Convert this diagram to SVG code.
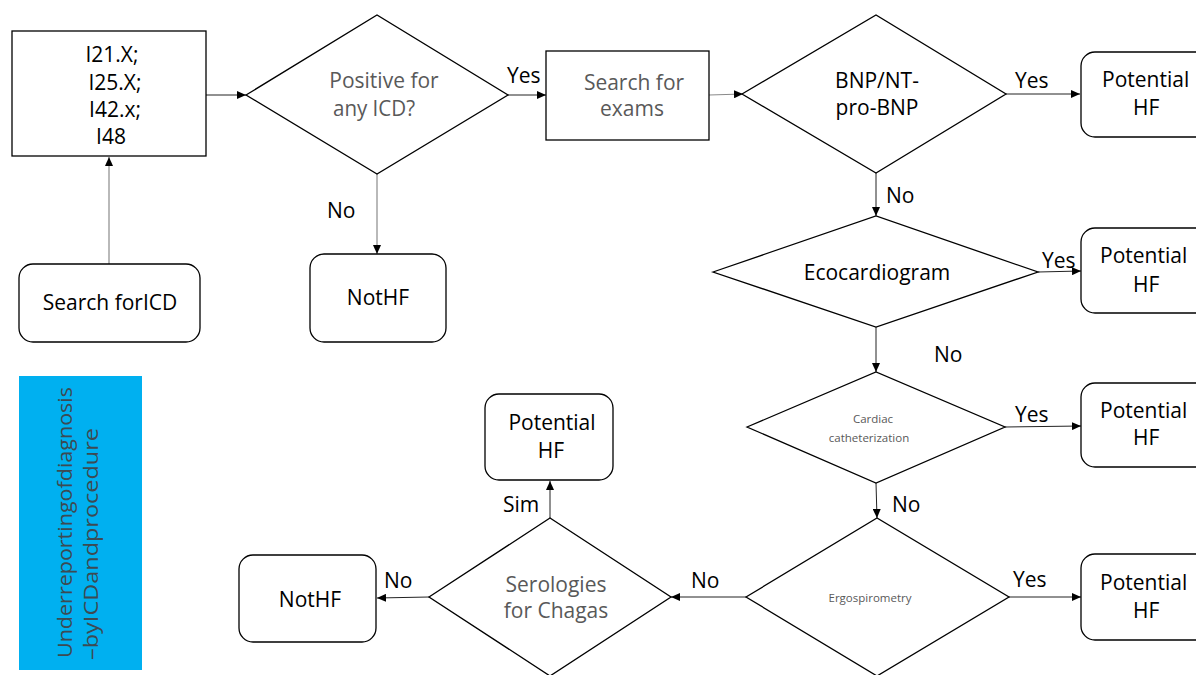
<svg xmlns="http://www.w3.org/2000/svg" width="1196" height="675" viewBox="0 0 1196 675">
<defs>
<marker id="ah" markerUnits="userSpaceOnUse" markerWidth="10" markerHeight="8" refX="9" refY="4" orient="auto">
<path d="M0,0 L9,4 L0,8 Z" fill="#000"/>
</marker>
<style>
.shape{fill:#fff;stroke:#000;stroke-width:1.3}
.t{font-family:"Open Sans","Liberation Sans",sans-serif;font-size:21px;fill:#000}
.g{fill:#595959}
.s{font-size:11.5px}
.c{text-anchor:middle}
.lbl{font-family:"Open Sans","Liberation Sans",sans-serif;font-size:21px;fill:#000}
.ln{fill:none;stroke:#222;stroke-width:1;marker-end:url(#ah)}
.lg{fill:none;stroke:#8a8a8a;stroke-width:1.2;marker-end:url(#ah)}
.side{font-family:"Open Sans","Liberation Sans",sans-serif;font-size:20px;fill:#3d4a52}
</style>
</defs>
<rect width="1196" height="675" fill="#fff"/>

<g id="connectors">
<path class="lg" d="M109,264 L109,157"/>
<path class="ln" d="M206,95 L246,95"/>
<path class="ln" d="M508,95 L546,95"/>
<path class="lg" d="M377,174 L377,254"/>
<path class="lg" d="M709,95 L743,94"/>
<path class="ln" d="M1006,94 L1080,94"/>
<path class="ln" d="M876,173 L876,216"/>
<path class="ln" d="M1038,272 L1081,271"/>
<path class="ln" d="M876,327 L876,372"/>
<path class="ln" d="M1005,427 L1081,426"/>
<path class="ln" d="M876,483 L877,518"/>
<path class="ln" d="M1009,597 L1081,597"/>
<path class="ln" d="M746,597 L671,597"/>
<path class="ln" d="M550,518 L550,481"/>
<path class="ln" d="M429,597 L377,598"/>
<text class="lbl" x="507" y="83">Yes</text>
<text class="lbl" x="327" y="218">No</text>
<text class="lbl" x="1015" y="88">Yes</text>
<text class="lbl" x="886" y="203">No</text>
<text class="lbl" x="1042" y="268">Yes</text>
<text class="lbl" x="934" y="362">No</text>
<text class="lbl" x="1015" y="422">Yes</text>
<text class="lbl" x="892" y="512">No</text>
<text class="lbl" x="1013" y="587">Yes</text>
<text class="lbl" x="691" y="588">No</text>
<text class="lbl" x="384" y="588">No</text>
<text class="lbl" x="503" y="512">Sim</text>
</g>

<g id="icd-codes">
<rect class="shape" x="12" y="31" width="194" height="125"/>
<text class="t c" x="112" y="62">I21.X;</text>
<text class="t c" x="115" y="90">I25.X;</text>
<text class="t c" x="115" y="117">I42.x;</text>
<text class="t c" x="111" y="144">I48</text>
</g>

<g id="search-icd">
<rect class="shape" x="19" y="264" width="181" height="78" rx="14"/>
<text class="t c" x="110" y="310">Search forICD</text>
</g>

<g id="positive-icd">
<polygon class="shape" points="246,95 377,15 508,95 377,174"/>
<text class="t g c" x="384" y="88">Positive for</text>
<text class="t g" x="333" y="116" textLength="82" lengthAdjust="spacingAndGlyphs">any ICD?</text>
</g>

<g id="not-hf-1">
<rect class="shape" x="310" y="254" width="136" height="88" rx="14"/>
<text class="t c" x="378" y="305">NotHF</text>
</g>

<g id="search-exams">
<rect class="shape" x="546" y="51" width="163" height="89"/>
<text class="t g c" x="634" y="90">Search for</text>
<text class="t g c" x="632" y="116">exams</text>
</g>

<g id="bnp">
<polygon class="shape" points="742,94 876,15 1006,94 876,173"/>
<text class="t c" x="877" y="88">BNP/NT-</text>
<text class="t c" x="877" y="115">pro-BNP</text>
</g>

<g id="potential-hf-1">
<rect class="shape" x="1081" y="52" width="140" height="85" rx="14"/>
<text class="t" x="1102" y="87">Potential</text>
<text class="t" x="1133" y="115">HF</text>
</g>

<g id="eco">
<polygon class="shape" points="713,272 876,216 1038,272 876,327"/>
<text class="t c" x="877" y="280">Ecocardiogram</text>
</g>

<g id="potential-hf-2">
<rect class="shape" x="1081" y="228" width="140" height="85" rx="14"/>
<text class="t" x="1100" y="263">Potential</text>
<text class="t" x="1133" y="292">HF</text>
</g>

<g id="cardiac">
<polygon class="shape" points="747,427 876,372 1005,427 876,483"/>
<text class="t g s c" x="873" y="423">Cardiac</text>
<text class="t g s c" x="869" y="442">catheterization</text>
</g>

<g id="potential-hf-3">
<rect class="shape" x="1081" y="383" width="140" height="84" rx="14"/>
<text class="t" x="1100" y="418">Potential</text>
<text class="t" x="1133" y="445">HF</text>
</g>

<g id="ergo">
<polygon class="shape" points="746,597 877,518 1009,597 877,676"/>
<text class="t g s c" x="870" y="602">Ergospirometry</text>
</g>

<g id="potential-hf-4">
<rect class="shape" x="1081" y="554" width="140" height="86" rx="14"/>
<text class="t" x="1100" y="590">Potential</text>
<text class="t" x="1133" y="618">HF</text>
</g>

<g id="serologies">
<polygon class="shape" points="429,597 550,518 671,597 550,676"/>
<text class="t g c" x="556" y="592">Serologies</text>
<text class="t g c" x="556" y="618">for Chagas</text>
</g>

<g id="potential-hf-5">
<rect class="shape" x="485" y="394" width="128" height="86" rx="14"/>
<text class="t c" x="552" y="430">Potential</text>
<text class="t c" x="551" y="458">HF</text>
</g>

<g id="not-hf-2">
<rect class="shape" x="239" y="555" width="137" height="87" rx="14"/>
<text class="t c" x="310" y="607">NotHF</text>
</g>

<g id="side-label">
<rect x="19" y="376" width="123" height="294" fill="#00B0F0"/>
<text class="side" transform="translate(72,658) rotate(-90)" textLength="271" lengthAdjust="spacingAndGlyphs">Underreportingofdiagnosis</text>
<text class="side" transform="translate(98,660) rotate(-90)" textLength="232" lengthAdjust="spacingAndGlyphs">–byICDandprocedure</text>
</g>
</svg>
